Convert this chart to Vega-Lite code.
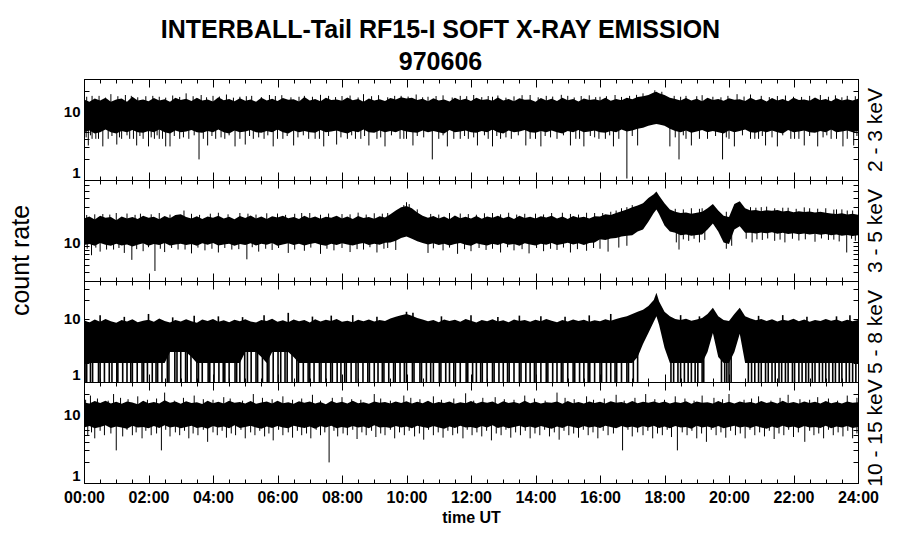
{
"$schema": "https://vega.github.io/schema/vega-lite/v6.json",
"background": "white",
"padding": {"left": 7, "top": 18, "right": 5, "bottom": 5},
"spacing": 0,
"bounds": "flush",
"title": {"text": ["INTERBALL-Tail RF15-I SOFT X-RAY EMISSION", "970606"], "font": "Liberation Sans", "fontSize": 25, "fontWeight": "bold", "color": "black", "lineHeight": 32, "anchor": "middle", "dx": -6, "offset": 3},
"config": {
 "view": {"stroke": "black", "strokeWidth": 1},
 "axis": {"grid": false, "domain": false, "labels": false, "tickColor": "black", "tickWidth": 1, "labelColor": "black", "labelFont": "Liberation Sans", "labelFontWeight": "bold", "labelFontSize": 15, "titleFont": "Liberation Sans", "titleColor": "black", "titleFontWeight": "normal"}
},
"datasets": {
"band": [
{"m":0,"a":5,"A":15,"b":9.2,"B":21,"c":2,"C":9.5,"d":6.5,"D":15},
{"m":10,"a":5.3,"A":14,"b":9.5,"B":22.5,"c":2,"C":8.8,"d":6.8,"D":14.5},
{"m":20,"a":4.8,"A":15.5,"b":9,"B":20.5,"c":2,"C":9.8,"d":6.3,"D":15.8},
{"m":30,"a":5,"A":14.5,"b":9.8,"B":23,"c":2,"C":9,"d":6.6,"D":14.8},
{"m":40,"a":5.5,"A":16,"b":9.3,"B":21.5,"c":2,"C":10,"d":7,"D":16},
{"m":50,"a":5,"A":14,"b":9,"B":22,"c":2,"C":9.2,"d":6.4,"D":14.6},
{"m":60,"a":4.8,"A":15,"b":9.6,"B":20,"c":2,"C":8.7,"d":6.7,"D":15.4},
{"m":70,"a":5.2,"A":15.5,"b":9.1,"B":22.5,"c":2,"C":9.6,"d":6.5,"D":14.4},
{"m":80,"a":5,"A":14,"b":9.4,"B":21,"c":2,"C":9.1,"d":6.2,"D":15.6},
{"m":90,"a":5.4,"A":16.5,"b":8.8,"B":22,"c":2,"C":9.9,"d":6.9,"D":15},
{"m":100,"a":5,"A":14.5,"b":9.3,"B":20.8,"c":2,"C":8.9,"d":6.5,"D":14.2},
{"m":110,"a":4.9,"A":15,"b":9.7,"B":23,"c":2,"C":9.4,"d":6.6,"D":15.9},
{"m":120,"a":5.2,"A":14.2,"b":9,"B":21.5,"c":2,"C":9.7,"d":6.3,"D":14.7},
{"m":130,"a":5,"A":15.8,"b":9.5,"B":22.2,"c":2,"C":9,"d":6.8,"D":15.3},
{"m":140,"a":5.5,"A":14.6,"b":9.2,"B":20.6,"c":2,"C":10.2,"d":6.4,"D":14.5},
{"m":150,"a":5,"A":15.2,"b":9.8,"B":22.8,"c":2,"C":9.3,"d":7,"D":16.2},
{"m":160,"a":4.8,"A":14,"b":9.1,"B":21.2,"c":3,"C":8.8,"d":6.5,"D":14.9},
{"m":170,"a":5.3,"A":16,"b":9.4,"B":23.5,"c":3,"C":9.6,"d":6.7,"D":15.5},
{"m":180,"a":5,"A":14.8,"b":9.6,"B":24,"c":3,"C":9.1,"d":6.3,"D":14.4},
{"m":190,"a":5.1,"A":15.4,"b":9.2,"B":22,"c":3,"C":9.9,"d":6.6,"D":15.7},
{"m":200,"a":5.4,"A":14.3,"b":9.5,"B":21,"c":2.5,"C":9.2,"d":6.9,"D":14.8},
{"m":210,"a":5,"A":15.9,"b":9,"B":22.6,"c":2,"C":8.7,"d":6.4,"D":15.2},
{"m":220,"a":4.9,"A":14.5,"b":9.7,"B":20.8,"c":2,"C":9.8,"d":6.6,"D":14.3},
{"m":230,"a":5.2,"A":15,"b":9.3,"B":22.4,"c":2,"C":9.3,"d":6.2,"D":15.9},
{"m":240,"a":5,"A":14.1,"b":9.8,"B":21.6,"c":2,"C":10,"d":6.8,"D":14.7},
{"m":250,"a":5.5,"A":16.2,"b":9.1,"B":23,"c":2,"C":9,"d":6.5,"D":15.4},
{"m":260,"a":5,"A":14.7,"b":9.4,"B":21,"c":2,"C":9.5,"d":6.7,"D":14.5},
{"m":270,"a":4.8,"A":15.3,"b":9.6,"B":22.2,"c":2,"C":8.9,"d":6.3,"D":16},
{"m":280,"a":5.3,"A":14.2,"b":9,"B":20.6,"c":2,"C":9.7,"d":7,"D":14.9},
{"m":290,"a":5,"A":15.7,"b":9.5,"B":22.8,"c":2,"C":9.2,"d":6.4,"D":15.3},
{"m":300,"a":5.1,"A":14.4,"b":9.2,"B":21.4,"c":3,"C":9.9,"d":6.6,"D":14.6},
{"m":310,"a":5.4,"A":15.1,"b":9.7,"B":23.2,"c":3,"C":9.1,"d":6.9,"D":15.8},
{"m":320,"a":5,"A":14,"b":9.1,"B":21,"c":3,"C":8.8,"d":6.5,"D":14.4},
{"m":330,"a":4.9,"A":16,"b":9.6,"B":22.4,"c":2.5,"C":9.6,"d":6.2,"D":15.1},
{"m":340,"a":5.2,"A":14.6,"b":9.3,"B":20.8,"c":2,"C":9.3,"d":6.7,"D":15.6},
{"m":350,"a":5,"A":15.4,"b":9.8,"B":22.6,"c":3,"C":10.1,"d":6.4,"D":14.5},
{"m":360,"a":5.5,"A":14.3,"b":9,"B":21.8,"c":3,"C":9,"d":6.8,"D":15.9},
{"m":370,"a":5,"A":15.8,"b":9.4,"B":23,"c":3,"C":9.5,"d":6.5,"D":14.7},
{"m":380,"a":4.8,"A":14.9,"b":9.7,"B":21.2,"c":3,"C":8.9,"d":6.3,"D":15.2},
{"m":390,"a":5.3,"A":15.2,"b":9.2,"B":22,"c":2.5,"C":9.8,"d":6.9,"D":14.4},
{"m":400,"a":5,"A":14.1,"b":9.6,"B":20.7,"c":2,"C":9.2,"d":6.6,"D":15.7},
{"m":410,"a":5.2,"A":16.3,"b":9.1,"B":22.9,"c":2,"C":9.6,"d":6.4,"D":14.9},
{"m":420,"a":5,"A":14.6,"b":9.5,"B":21.3,"c":2,"C":8.8,"d":6.7,"D":15.5},
{"m":430,"a":4.9,"A":15.3,"b":9.8,"B":22.5,"c":2,"C":9.9,"d":6.2,"D":14.6},
{"m":440,"a":5.4,"A":14.2,"b":9.3,"B":20.9,"c":2,"C":9.1,"d":6.8,"D":15.3},
{"m":450,"a":5,"A":15.9,"b":9,"B":22.2,"c":2,"C":9.7,"d":6.5,"D":14.2},
{"m":460,"a":5.1,"A":14.8,"b":9.6,"B":21.5,"c":2,"C":9.3,"d":6.9,"D":15.8},
{"m":470,"a":5.3,"A":15.1,"b":9.2,"B":23,"c":2,"C":10,"d":6.3,"D":14.8},
{"m":480,"a":5,"A":14.4,"b":9.7,"B":21,"c":2,"C":9,"d":6.6,"D":15.4},
{"m":490,"a":4.8,"A":16.1,"b":9.4,"B":22.4,"c":2,"C":9.4,"d":6.4,"D":14.5},
{"m":500,"a":5.2,"A":14.7,"b":9.1,"B":20.8,"c":2,"C":8.9,"d":6.8,"D":15.9},
{"m":510,"a":5,"A":15.3,"b":9.5,"B":22.8,"c":2,"C":9.7,"d":6.5,"D":14.7},
{"m":520,"a":5.5,"A":14,"b":9.8,"B":21.4,"c":2,"C":9.2,"d":6.7,"D":15.2},
{"m":530,"a":5,"A":15.6,"b":9.2,"B":22,"c":2,"C":9.8,"d":6.3,"D":14.4},
{"m":540,"a":4.9,"A":14.5,"b":9.6,"B":20.9,"c":2,"C":9.1,"d":7,"D":15.6},
{"m":550,"a":5.3,"A":15.2,"b":9.3,"B":22.6,"c":2,"C":9.6,"d":6.5,"D":14.9},
{"m":560,"a":5,"A":14.3,"b":9.9,"B":21.8,"c":2,"C":9.3,"d":6.6,"D":15.3},
{"m":570,"a":5.2,"A":15.8,"b":10,"B":24,"c":2,"C":10.2,"d":6.4,"D":14.6},
{"m":580,"a":5,"A":15,"b":10.5,"B":27,"c":2,"C":10.8,"d":6.8,"D":15.5},
{"m":590,"a":5.4,"A":16.2,"b":11.5,"B":30,"c":2,"C":11.5,"d":6.5,"D":14.8},
{"m":600,"a":5.1,"A":15.5,"b":12,"B":31,"c":2,"C":12,"d":6.7,"D":15.7},
{"m":610,"a":5,"A":16,"b":11.2,"B":29,"c":2,"C":11.2,"d":6.3,"D":14.5},
{"m":620,"a":4.9,"A":14.8,"b":10.4,"B":25.5,"c":2,"C":10.4,"d":6.9,"D":15.4},
{"m":630,"a":5.3,"A":15.4,"b":9.8,"B":23,"c":2,"C":9.8,"d":6.6,"D":14.7},
{"m":640,"a":5,"A":14.2,"b":9.4,"B":21.5,"c":2,"C":9.2,"d":6.4,"D":15.9},
{"m":650,"a":5.2,"A":15.7,"b":9.7,"B":22.7,"c":2,"C":9.6,"d":6.8,"D":14.6},
{"m":660,"a":5,"A":14.6,"b":9.2,"B":21,"c":2,"C":8.9,"d":6.5,"D":15.3},
{"m":670,"a":4.8,"A":15.1,"b":9.6,"B":22.4,"c":2,"C":9.8,"d":6.2,"D":14.8},
{"m":680,"a":5.4,"A":14.1,"b":9.1,"B":20.6,"c":2,"C":9.3,"d":6.7,"D":15.6},
{"m":690,"a":5,"A":16,"b":9.5,"B":23.1,"c":2,"C":9.7,"d":6.4,"D":14.4},
{"m":700,"a":5.1,"A":14.7,"b":9.8,"B":21.3,"c":2,"C":9,"d":6.9,"D":15.2},
{"m":710,"a":5.3,"A":15.4,"b":9.3,"B":22.2,"c":2,"C":10,"d":6.5,"D":14.7},
{"m":720,"a":5,"A":14.3,"b":9,"B":21,"c":2,"C":9.4,"d":6.6,"D":15.8},
{"m":730,"a":4.9,"A":15.9,"b":9.7,"B":22.8,"c":2,"C":8.8,"d":6.3,"D":14.6},
{"m":740,"a":5.2,"A":14.8,"b":9.4,"B":20.9,"c":2,"C":9.6,"d":6.8,"D":15.4},
{"m":750,"a":5,"A":15.2,"b":9.1,"B":22.5,"c":2,"C":9.2,"d":6.5,"D":14.9},
{"m":760,"a":5.5,"A":14.4,"b":9.6,"B":21.6,"c":2,"C":9.9,"d":7,"D":15.5},
{"m":770,"a":5,"A":16.1,"b":9.2,"B":23,"c":2,"C":9.1,"d":6.4,"D":14.3},
{"m":780,"a":4.8,"A":14.6,"b":9.8,"B":21.2,"c":2,"C":9.5,"d":6.7,"D":15.7},
{"m":790,"a":5.3,"A":15.3,"b":9.3,"B":22.4,"c":2,"C":8.9,"d":6.3,"D":14.8},
{"m":800,"a":5,"A":14.2,"b":9.5,"B":20.7,"c":2,"C":9.8,"d":6.6,"D":15.3},
{"m":810,"a":5.1,"A":15.7,"b":9,"B":22.9,"c":2,"C":9.3,"d":6.9,"D":14.5},
{"m":820,"a":5.4,"A":14.9,"b":9.7,"B":21.4,"c":2,"C":9.6,"d":6.5,"D":15.9},
{"m":830,"a":5,"A":15.1,"b":9.4,"B":22.2,"c":2,"C":9,"d":6.7,"D":14.7},
{"m":840,"a":4.9,"A":14,"b":9.1,"B":21,"c":2,"C":9.7,"d":6.4,"D":15.4},
{"m":850,"a":5.2,"A":15.8,"b":9.6,"B":22.6,"c":2,"C":9.2,"d":6.8,"D":14.6},
{"m":860,"a":5,"A":14.5,"b":9.3,"B":21.7,"c":2,"C":10,"d":6.5,"D":15.2},
{"m":870,"a":5.3,"A":15.4,"b":9.8,"B":23,"c":2,"C":9.4,"d":6.2,"D":14.9},
{"m":880,"a":5,"A":14.3,"b":9.2,"B":21.1,"c":2,"C":8.9,"d":6.7,"D":15.6},
{"m":890,"a":4.8,"A":16,"b":9.5,"B":22.4,"c":2,"C":9.6,"d":6.4,"D":14.4},
{"m":900,"a":5.2,"A":14.7,"b":9.9,"B":20.8,"c":2,"C":9.1,"d":6.9,"D":15.8},
{"m":910,"a":5,"A":15.3,"b":9.4,"B":22.8,"c":2,"C":9.8,"d":6.6,"D":14.7},
{"m":920,"a":5.4,"A":14.1,"b":9.7,"B":21.5,"c":2,"C":9.3,"d":6.3,"D":15.3},
{"m":930,"a":5,"A":15.6,"b":9.2,"B":22.3,"c":2,"C":9.7,"d":6.8,"D":14.5},
{"m":940,"a":5.1,"A":14.8,"b":9.8,"B":21,"c":2,"C":9,"d":6.5,"D":15.6},
{"m":950,"a":5.3,"A":15.2,"b":10,"B":22.6,"c":2,"C":9.5,"d":6.7,"D":14.8},
{"m":960,"a":5,"A":14.5,"b":11,"B":22.5,"c":2,"C":9.2,"d":6.4,"D":15.4},
{"m":970,"a":4.9,"A":15.9,"b":10.8,"B":24,"c":2,"C":9.9,"d":6.9,"D":14.6},
{"m":980,"a":5.2,"A":14.4,"b":11.3,"B":23.5,"c":2,"C":9.4,"d":6.6,"D":15.7},
{"m":990,"a":5,"A":15.3,"b":11.5,"B":25,"c":2,"C":10,"d":6.3,"D":14.9},
{"m":1000,"a":5.5,"A":14.7,"b":12,"B":26.5,"c":2,"C":10.5,"d":6.8,"D":15.3},
{"m":1010,"a":5.1,"A":16,"b":12.3,"B":28,"c":2,"C":11,"d":6.5,"D":14.5},
{"m":1020,"a":5.3,"A":15.2,"b":12.5,"B":30,"c":2,"C":12,"d":6.7,"D":15.8},
{"m":1030,"a":5.6,"A":16.3,"b":14,"B":31.5,"c":2.5,"C":13,"d":6.4,"D":14.7},
{"m":1040,"a":5.8,"A":16.8,"b":15,"B":34,"c":4,"C":14,"d":6.8,"D":15.4},
{"m":1050,"a":6.2,"A":17.5,"b":19,"B":40,"c":6,"C":16,"d":6.5,"D":14.9},
{"m":1060,"a":6.5,"A":19,"b":25,"B":45,"c":9,"C":20,"d":6.9,"D":15.6},
{"m":1065,"a":6.6,"A":19.5,"b":28,"B":49,"c":11,"C":26,"d":6.6,"D":15.2},
{"m":1070,"a":6.5,"A":18.5,"b":24,"B":43,"c":8,"C":19,"d":6.4,"D":14.8},
{"m":1080,"a":6.2,"A":17.5,"b":17,"B":34,"c":3.5,"C":13,"d":6.7,"D":15.5},
{"m":1090,"a":5.6,"A":16,"b":14,"B":28,"c":2,"C":11,"d":6.3,"D":14.6},
{"m":1100,"a":5.2,"A":15.3,"b":13.5,"B":26,"c":2,"C":10,"d":6.8,"D":15.3},
{"m":1110,"a":5,"A":14.6,"b":12.5,"B":25,"c":2,"C":9.6,"d":6.5,"D":14.8},
{"m":1120,"a":5.3,"A":15.8,"b":12.8,"B":25.5,"c":2,"C":10.1,"d":6.6,"D":15.7},
{"m":1130,"a":4.9,"A":14.5,"b":12.3,"B":24.5,"c":2,"C":9.4,"d":6.2,"D":14.4},
{"m":1140,"a":5.1,"A":15.4,"b":12.6,"B":25.2,"c":2,"C":9.8,"d":6.9,"D":15.5},
{"m":1150,"a":5.4,"A":14.2,"b":12.8,"B":26,"c":2,"C":10.4,"d":6.5,"D":14.9},
{"m":1160,"a":5,"A":15.9,"b":15,"B":29,"c":3,"C":12,"d":6.7,"D":15.2},
{"m":1170,"a":5.2,"A":14.8,"b":18,"B":33,"c":6,"C":15,"d":6.4,"D":14.6},
{"m":1180,"a":5,"A":15.3,"b":14,"B":27,"c":2.5,"C":11,"d":6.8,"D":15.8},
{"m":1190,"a":4.8,"A":14.4,"b":10,"B":23,"c":2,"C":9.6,"d":6.3,"D":14.7},
{"m":1200,"a":5.3,"A":15.7,"b":9.5,"B":22,"c":2,"C":9.3,"d":6.6,"D":15.4},
{"m":1210,"a":5,"A":14.9,"b":15,"B":33,"c":3,"C":12,"d":6.9,"D":14.5},
{"m":1220,"a":5.2,"A":15.2,"b":16.5,"B":36,"c":5.8,"C":15,"d":6.5,"D":15.6},
{"m":1230,"a":5.5,"A":14.3,"b":13.5,"B":29,"c":2,"C":11,"d":6.7,"D":14.9},
{"m":1240,"a":5,"A":16,"b":13.5,"B":27,"c":2,"C":10.2,"d":6.4,"D":15.3},
{"m":1250,"a":4.9,"A":14.7,"b":13.2,"B":27.5,"c":2,"C":9.5,"d":6.8,"D":14.6},
{"m":1260,"a":5.2,"A":15.4,"b":13.6,"B":26.5,"c":2,"C":10,"d":6.5,"D":15.8},
{"m":1270,"a":5,"A":14.1,"b":13.3,"B":27.2,"c":2,"C":9.3,"d":6.2,"D":14.8},
{"m":1280,"a":5.3,"A":15.8,"b":13.7,"B":26.8,"c":2,"C":9.9,"d":6.7,"D":15.4},
{"m":1290,"a":5,"A":14.6,"b":13.1,"B":27.4,"c":2,"C":9.1,"d":6.4,"D":14.5},
{"m":1300,"a":4.8,"A":15.3,"b":13.5,"B":26.2,"c":2,"C":9.7,"d":6.9,"D":15.9},
{"m":1310,"a":5.4,"A":14.2,"b":13,"B":26.8,"c":2,"C":9.4,"d":6.5,"D":14.7},
{"m":1320,"a":5,"A":15.9,"b":13.3,"B":25.6,"c":2,"C":10.1,"d":6.7,"D":15.3},
{"m":1330,"a":5.1,"A":14.8,"b":12.9,"B":26.4,"c":2,"C":9.2,"d":6.3,"D":14.6},
{"m":1340,"a":5.3,"A":15.1,"b":13.2,"B":25.8,"c":2,"C":9.8,"d":6.8,"D":15.6},
{"m":1350,"a":5,"A":14.4,"b":12.8,"B":26.2,"c":2,"C":9,"d":6.5,"D":14.8},
{"m":1360,"a":4.9,"A":16.1,"b":13.1,"B":25.4,"c":2,"C":9.6,"d":6.6,"D":15.4},
{"m":1370,"a":5.2,"A":14.7,"b":12.7,"B":26,"c":2,"C":9.3,"d":6.4,"D":14.5},
{"m":1380,"a":5,"A":15.3,"b":13,"B":25.2,"c":2,"C":10,"d":6.9,"D":15.8},
{"m":1390,"a":5.5,"A":14.2,"b":12.5,"B":24.6,"c":2,"C":9.4,"d":6.3,"D":14.7},
{"m":1400,"a":5,"A":15.7,"b":12.8,"B":24.2,"c":2,"C":9.8,"d":6.7,"D":15.3},
{"m":1410,"a":5.1,"A":14.6,"b":12.3,"B":24.8,"c":2,"C":9.1,"d":6.5,"D":14.6},
{"m":1420,"a":5.3,"A":15.2,"b":12.6,"B":23.8,"c":2,"C":9.7,"d":6.8,"D":15.5},
{"m":1430,"a":5,"A":14.5,"b":12.2,"B":24.4,"c":2,"C":9.2,"d":6.4,"D":14.9},
{"m":1440,"a":5.2,"A":15.4,"b":12.5,"B":23.6,"c":2,"C":9.6,"d":6.6,"D":15.2}
],
"spk": [
{"p":1,"m":8,"v":3.2},{"p":1,"m":15,"v":4},{"p":1,"m":22,"v":4},{"p":1,"m":35,"v":3.1},{"p":1,"m":45,"v":4},{"p":1,"m":61,"v":3.3},{"p":1,"m":70,"v":4},{"p":1,"m":85,"v":4},{"p":1,"m":98,"v":3.2},{"p":1,"m":110,"v":4},{"p":1,"m":120,"v":3.1},{"p":1,"m":131,"v":4},{"p":1,"m":140,"v":4},{"p":1,"m":152,"v":3.1},{"p":1,"m":160,"v":3.1},{"p":1,"m":178,"v":4},{"p":1,"m":195,"v":4},{"p":1,"m":214,"v":2},{"p":1,"m":230,"v":3.2},{"p":1,"m":245,"v":4},{"p":1,"m":262,"v":4},{"p":1,"m":281,"v":3.1},{"p":1,"m":300,"v":3.3},{"p":1,"m":315,"v":4},{"p":1,"m":335,"v":4},{"p":1,"m":352,"v":3.1},{"p":1,"m":370,"v":4},{"p":1,"m":390,"v":3.2},{"p":1,"m":418,"v":4},{"p":1,"m":430,"v":4},{"p":1,"m":446,"v":3.1},{"p":1,"m":470,"v":3.3},{"p":1,"m":490,"v":4},{"p":1,"m":505,"v":4},{"p":1,"m":530,"v":3.2},{"p":1,"m":545,"v":4},{"p":1,"m":560,"v":3.1},{"p":1,"m":588,"v":4},{"p":1,"m":600,"v":4},{"p":1,"m":612,"v":3.2},{"p":1,"m":648,"v":2},{"p":1,"m":660,"v":4},{"p":1,"m":676,"v":3.1},{"p":1,"m":700,"v":4},{"p":1,"m":715,"v":4},{"p":1,"m":732,"v":3.2},{"p":1,"m":760,"v":3.1},{"p":1,"m":775,"v":4},{"p":1,"m":795,"v":4},{"p":1,"m":822,"v":3.2},{"p":1,"m":840,"v":4},{"p":1,"m":850,"v":3.1},{"p":1,"m":880,"v":4},{"p":1,"m":905,"v":3.2},{"p":1,"m":915,"v":4},{"p":1,"m":930,"v":3.1},{"p":1,"m":958,"v":4},{"p":1,"m":970,"v":4},{"p":1,"m":985,"v":3.1},{"p":1,"m":1010,"v":1.05},{"p":1,"m":1030,"v":3.2},{"p":1,"m":1090,"v":3.1},{"p":1,"m":1107,"v":2},{"p":1,"m":1120,"v":4},{"p":1,"m":1130,"v":3.2},{"p":1,"m":1160,"v":4},{"p":1,"m":1188,"v":2},{"p":1,"m":1200,"v":4},{"p":1,"m":1210,"v":3.1},{"p":1,"m":1240,"v":4},{"p":1,"m":1255,"v":4},{"p":1,"m":1268,"v":3.2},{"p":1,"m":1290,"v":3.1},{"p":1,"m":1315,"v":4},{"p":1,"m":1330,"v":4},{"p":1,"m":1340,"v":3.2},{"p":1,"m":1365,"v":3.1},{"p":1,"m":1390,"v":4},{"p":1,"m":1400,"v":4},{"p":1,"m":1412,"v":3.1},{"p":1,"m":1432,"v":3.2},
{"p":1,"m":4,"v":4.2},{"p":1,"m":12,"v":4.5},{"p":1,"m":27,"v":4},{"p":1,"m":52,"v":4.4},{"p":1,"m":66,"v":4.2},{"p":1,"m":80,"v":4.5},{"p":1,"m":92,"v":4},{"p":1,"m":104,"v":4.4},{"p":1,"m":125,"v":4.2},{"p":1,"m":136,"v":4.5},{"p":1,"m":146,"v":4},{"p":1,"m":168,"v":4.4},{"p":1,"m":185,"v":4.2},{"p":1,"m":205,"v":4.5},{"p":1,"m":222,"v":4},{"p":1,"m":238,"v":4.4},{"p":1,"m":255,"v":4.2},{"p":1,"m":270,"v":4.5},{"p":1,"m":290,"v":4},{"p":1,"m":308,"v":4.4},{"p":1,"m":325,"v":4.2},{"p":1,"m":342,"v":4.5},{"p":1,"m":360,"v":4},{"p":1,"m":378,"v":4.4},{"p":1,"m":398,"v":4.2},{"p":1,"m":408,"v":4.5},{"p":1,"m":438,"v":4},{"p":1,"m":455,"v":4.4},{"p":1,"m":478,"v":4.2},{"p":1,"m":498,"v":4.5},{"p":1,"m":515,"v":4},{"p":1,"m":522,"v":4.4},{"p":1,"m":552,"v":4.2},{"p":1,"m":572,"v":4.5},{"p":1,"m":595,"v":4},{"p":1,"m":620,"v":4.4},{"p":1,"m":632,"v":4.2},{"p":1,"m":668,"v":4.5},{"p":1,"m":688,"v":4},{"p":1,"m":708,"v":4.4},{"p":1,"m":725,"v":4.2},{"p":1,"m":745,"v":4.5},{"p":1,"m":752,"v":4},{"p":1,"m":768,"v":4.4},{"p":1,"m":785,"v":4.2},{"p":1,"m":808,"v":4.5},{"p":1,"m":830,"v":4},{"p":1,"m":858,"v":4.4},{"p":1,"m":868,"v":4.2},{"p":1,"m":892,"v":4.5},{"p":1,"m":922,"v":4},{"p":1,"m":942,"v":4.4},{"p":1,"m":950,"v":4.2},{"p":1,"m":978,"v":4.5},{"p":1,"m":995,"v":4},{"p":1,"m":1020,"v":4.4},{"p":1,"m":1100,"v":4.2},{"p":1,"m":1115,"v":4.5},{"p":1,"m":1145,"v":4},{"p":1,"m":1175,"v":4.4},{"p":1,"m":1195,"v":4.2},{"p":1,"m":1225,"v":4.5},{"p":1,"m":1248,"v":4},{"p":1,"m":1262,"v":4.4},{"p":1,"m":1280,"v":4.2},{"p":1,"m":1300,"v":4.5},{"p":1,"m":1322,"v":4},{"p":1,"m":1350,"v":4.4},{"p":1,"m":1375,"v":4.2},{"p":1,"m":1382,"v":4.5},{"p":1,"m":1420,"v":4},{"p":1,"m":1438,"v":4.4},
{"p":1,"m":15,"v":17},{"p":1,"m":50,"v":18},{"p":1,"m":88,"v":17},{"p":1,"m":140,"v":16.5},{"p":1,"m":190,"v":18.5},{"p":1,"m":240,"v":17},{"p":1,"m":290,"v":16.5},{"p":1,"m":345,"v":17.5},{"p":1,"m":400,"v":16.5},{"p":1,"m":455,"v":17},{"p":1,"m":520,"v":18},{"p":1,"m":590,"v":17},{"p":1,"m":640,"v":16.5},{"p":1,"m":700,"v":17},{"p":1,"m":760,"v":16.5},{"p":1,"m":830,"v":17.5},{"p":1,"m":900,"v":17},{"p":1,"m":960,"v":16.5},{"p":1,"m":1040,"v":18.5},{"p":1,"m":1062,"v":20.5},{"p":1,"m":1075,"v":19.5},{"p":1,"m":1120,"v":17},{"p":1,"m":1170,"v":16.5},{"p":1,"m":1215,"v":18},{"p":1,"m":1260,"v":17},{"p":1,"m":1320,"v":16.5},{"p":1,"m":1370,"v":17.5},{"p":1,"m":1420,"v":17},
{"p":1,"m":5,"v":16.5},{"p":1,"m":28,"v":17},{"p":1,"m":40,"v":16},{"p":1,"m":63,"v":16.8},{"p":1,"m":77,"v":17.5},{"p":1,"m":100,"v":16.2},{"p":1,"m":115,"v":16.8},{"p":1,"m":128,"v":17},{"p":1,"m":152,"v":16},{"p":1,"m":165,"v":17.2},{"p":1,"m":178,"v":16.4},{"p":1,"m":203,"v":16.8},{"p":1,"m":218,"v":17.5},{"p":1,"m":228,"v":16.2},{"p":1,"m":252,"v":16.6},{"p":1,"m":265,"v":17.8},{"p":1,"m":278,"v":16},{"p":1,"m":302,"v":16.8},{"p":1,"m":312,"v":17},{"p":1,"m":330,"v":16.3},{"p":1,"m":356,"v":16.9},{"p":1,"m":368,"v":17.4},{"p":1,"m":385,"v":16.2},{"p":1,"m":410,"v":17},{"p":1,"m":425,"v":16.5},{"p":1,"m":440,"v":17.6},{"p":1,"m":468,"v":16.3},{"p":1,"m":480,"v":16.9},{"p":1,"m":495,"v":17.2},{"p":1,"m":510,"v":16.1},{"p":1,"m":535,"v":16.8},{"p":1,"m":548,"v":17.4},{"p":1,"m":565,"v":16.2},{"p":1,"m":578,"v":17},{"p":1,"m":603,"v":16.6},{"p":1,"m":618,"v":17.8},{"p":1,"m":630,"v":16.2},{"p":1,"m":655,"v":16.9},{"p":1,"m":668,"v":17.3},{"p":1,"m":685,"v":16.1},{"p":1,"m":712,"v":16.8},{"p":1,"m":725,"v":17.5},{"p":1,"m":740,"v":16.3},{"p":1,"m":752,"v":16.9},{"p":1,"m":770,"v":17.2},{"p":1,"m":785,"v":16},{"p":1,"m":800,"v":16.7},{"p":1,"m":815,"v":17.4},{"p":1,"m":845,"v":16.2},{"p":1,"m":860,"v":17},{"p":1,"m":872,"v":16.6},{"p":1,"m":888,"v":17.6},{"p":1,"m":912,"v":16.1},{"p":1,"m":925,"v":16.9},{"p":1,"m":940,"v":17.3},{"p":1,"m":952,"v":16.3},{"p":1,"m":972,"v":16.8},{"p":1,"m":988,"v":17.5},{"p":1,"m":1000,"v":16.4},{"p":1,"m":1015,"v":17},{"p":1,"m":1028,"v":17.6},{"p":1,"m":1098,"v":17},{"p":1,"m":1110,"v":16.5},{"p":1,"m":1140,"v":16.8},{"p":1,"m":1150,"v":17.4},{"p":1,"m":1185,"v":16.2},{"p":1,"m":1198,"v":17},{"p":1,"m":1228,"v":16.6},{"p":1,"m":1240,"v":17.8},{"p":1,"m":1275,"v":16.3},{"p":1,"m":1290,"v":16.9},{"p":1,"m":1305,"v":17.2},{"p":1,"m":1335,"v":16.4},{"p":1,"m":1350,"v":17},{"p":1,"m":1385,"v":16.5},{"p":1,"m":1398,"v":17.3},{"p":1,"m":1410,"v":16.2},{"p":1,"m":1435,"v":16.8},
{"p":2,"m":14,"v":6.7},{"p":2,"m":30,"v":7.5},{"p":2,"m":55,"v":8},{"p":2,"m":75,"v":7.2},{"p":2,"m":89,"v":5.8},{"p":2,"m":110,"v":7.6},{"p":2,"m":132,"v":4.1},{"p":2,"m":150,"v":7.4},{"p":2,"m":175,"v":8},{"p":2,"m":200,"v":7.1},{"p":2,"m":225,"v":7.8},{"p":2,"m":250,"v":7.3},{"p":2,"m":275,"v":8},{"p":2,"m":303,"v":5.9},{"p":2,"m":325,"v":7.5},{"p":2,"m":350,"v":7.9},{"p":2,"m":380,"v":7.2},{"p":2,"m":410,"v":7.7},{"p":2,"m":440,"v":7},{"p":2,"m":465,"v":7.8},{"p":2,"m":495,"v":7.4},{"p":2,"m":520,"v":8},{"p":2,"m":545,"v":7.3},{"p":2,"m":580,"v":7.9},{"p":2,"m":640,"v":7.2},{"p":2,"m":668,"v":7.8},{"p":2,"m":695,"v":7},{"p":2,"m":720,"v":7.6},{"p":2,"m":748,"v":7.9},{"p":2,"m":775,"v":7.3},{"p":2,"m":800,"v":7.8},{"p":2,"m":828,"v":7.1},{"p":2,"m":855,"v":7.6},{"p":2,"m":880,"v":7.9},{"p":2,"m":905,"v":7.3},{"p":2,"m":935,"v":7.7},{"p":2,"m":960,"v":8.2},{"p":2,"m":975,"v":7.5},{"p":2,"m":995,"v":8.5},{"p":2,"m":1010,"v":9},{"p":2,"m":1102,"v":10},{"p":2,"m":1107,"v":8},{"p":2,"m":1125,"v":10.5},{"p":2,"m":1145,"v":10},{"p":2,"m":1195,"v":8.2},{"p":2,"m":1205,"v":9},{"p":2,"m":1243,"v":10},{"p":2,"m":1262,"v":10.8},{"p":2,"m":1285,"v":10.5},{"p":2,"m":1304,"v":10},{"p":2,"m":1330,"v":10.6},{"p":2,"m":1360,"v":10.2},{"p":2,"m":1385,"v":10.8},{"p":2,"m":1405,"v":10.3},{"p":2,"m":1419,"v":7.3},{"p":2,"m":1435,"v":10.5},
{"p":2,"m":6,"v":8.2},{"p":2,"m":22,"v":8.5},{"p":2,"m":42,"v":8},{"p":2,"m":65,"v":8.4},{"p":2,"m":98,"v":8.1},{"p":2,"m":120,"v":8.6},{"p":2,"m":142,"v":8.2},{"p":2,"m":163,"v":8.4},{"p":2,"m":188,"v":8},{"p":2,"m":212,"v":8.5},{"p":2,"m":238,"v":8.2},{"p":2,"m":262,"v":8.4},{"p":2,"m":288,"v":8.1},{"p":2,"m":313,"v":8.6},{"p":2,"m":338,"v":8.2},{"p":2,"m":362,"v":8.4},{"p":2,"m":392,"v":8},{"p":2,"m":422,"v":8.5},{"p":2,"m":452,"v":8.2},{"p":2,"m":480,"v":8.4},{"p":2,"m":508,"v":8.1},{"p":2,"m":532,"v":8.6},{"p":2,"m":558,"v":8.2},{"p":2,"m":565,"v":8.4},{"p":2,"m":650,"v":8.3},{"p":2,"m":680,"v":8.5},{"p":2,"m":708,"v":8.1},{"p":2,"m":735,"v":8.4},{"p":2,"m":760,"v":8.2},{"p":2,"m":788,"v":8.6},{"p":2,"m":815,"v":8.1},{"p":2,"m":842,"v":8.4},{"p":2,"m":868,"v":8.2},{"p":2,"m":892,"v":8.5},{"p":2,"m":918,"v":8.1},{"p":2,"m":948,"v":8.4},{"p":2,"m":1115,"v":11},{"p":2,"m":1135,"v":11.2},{"p":2,"m":1155,"v":10.8},{"p":2,"m":1232,"v":11.2},{"p":2,"m":1252,"v":11},{"p":2,"m":1272,"v":11.3},{"p":2,"m":1295,"v":10.9},{"p":2,"m":1318,"v":11.2},{"p":2,"m":1342,"v":11},{"p":2,"m":1372,"v":11.3},{"p":2,"m":1395,"v":10.9},{"p":2,"m":1428,"v":11.2},
{"p":2,"m":20,"v":24},{"p":2,"m":60,"v":25},{"p":2,"m":105,"v":24.5},{"p":2,"m":186,"v":27},{"p":2,"m":235,"v":24.5},{"p":2,"m":290,"v":25},{"p":2,"m":360,"v":24.6},{"p":2,"m":420,"v":25},{"p":2,"m":480,"v":24.2},{"p":2,"m":540,"v":24.8},{"p":2,"m":600,"v":35},{"p":2,"m":605,"v":33},{"p":2,"m":700,"v":24.6},{"p":2,"m":760,"v":25},{"p":2,"m":820,"v":24.4},{"p":2,"m":890,"v":25.2},{"p":2,"m":950,"v":25},{"p":2,"m":1000,"v":29},{"p":2,"m":1130,"v":29},{"p":2,"m":1260,"v":30},{"p":2,"m":1300,"v":29.5},{"p":2,"m":1350,"v":29},{"p":2,"m":1400,"v":28},{"p":2,"m":1430,"v":27},
{"p":2,"m":5,"v":23.5},{"p":2,"m":35,"v":24.2},{"p":2,"m":48,"v":23.8},{"p":2,"m":80,"v":24.6},{"p":2,"m":95,"v":23.6},{"p":2,"m":125,"v":24},{"p":2,"m":140,"v":25},{"p":2,"m":160,"v":23.8},{"p":2,"m":200,"v":24.4},{"p":2,"m":215,"v":23.6},{"p":2,"m":250,"v":25.2},{"p":2,"m":268,"v":24},{"p":2,"m":305,"v":24.5},{"p":2,"m":320,"v":23.8},{"p":2,"m":340,"v":24.8},{"p":2,"m":375,"v":23.6},{"p":2,"m":392,"v":24.4},{"p":2,"m":405,"v":25},{"p":2,"m":440,"v":23.7},{"p":2,"m":455,"v":24.6},{"p":2,"m":495,"v":24},{"p":2,"m":510,"v":25.3},{"p":2,"m":525,"v":23.8},{"p":2,"m":555,"v":24.5},{"p":2,"m":565,"v":25},{"p":2,"m":585,"v":28},{"p":2,"m":595,"v":32},{"p":2,"m":620,"v":28},{"p":2,"m":645,"v":24.3},{"p":2,"m":660,"v":23.8},{"p":2,"m":680,"v":25},{"p":2,"m":715,"v":24.2},{"p":2,"m":730,"v":23.7},{"p":2,"m":745,"v":24.8},{"p":2,"m":775,"v":24},{"p":2,"m":790,"v":25.2},{"p":2,"m":805,"v":23.8},{"p":2,"m":840,"v":24.5},{"p":2,"m":855,"v":23.9},{"p":2,"m":870,"v":25},{"p":2,"m":905,"v":24.3},{"p":2,"m":920,"v":23.8},{"p":2,"m":935,"v":25.2},{"p":2,"m":965,"v":25},{"p":2,"m":980,"v":26},{"p":2,"m":990,"v":27},{"p":2,"m":1010,"v":30},{"p":2,"m":1020,"v":32},{"p":2,"m":1100,"v":28.5},{"p":2,"m":1115,"v":28},{"p":2,"m":1145,"v":28.5},{"p":2,"m":1150,"v":29},{"p":2,"m":1195,"v":26},{"p":2,"m":1240,"v":30},{"p":2,"m":1250,"v":29.5},{"p":2,"m":1270,"v":30.5},{"p":2,"m":1285,"v":29},{"p":2,"m":1310,"v":29.5},{"p":2,"m":1325,"v":28.5},{"p":2,"m":1340,"v":29.8},{"p":2,"m":1365,"v":28.6},{"p":2,"m":1380,"v":29},{"p":2,"m":1395,"v":27.8},{"p":2,"m":1410,"v":28},{"p":2,"m":1420,"v":27},
{"p":3,"m":2,"v":1},{"p":3,"m":5,"v":1},{"p":3,"m":12,"v":1},{"p":3,"m":16,"v":1},{"p":3,"m":27,"v":1},{"p":3,"m":30,"v":1},{"p":3,"m":38,"v":1},{"p":3,"m":47,"v":1},{"p":3,"m":52,"v":1},{"p":3,"m":61,"v":1},{"p":3,"m":63,"v":1},{"p":3,"m":72,"v":1},{"p":3,"m":80,"v":1},{"p":3,"m":87,"v":1},{"p":3,"m":90,"v":1},{"p":3,"m":99,"v":1},{"p":3,"m":108,"v":1},{"p":3,"m":111,"v":1},{"p":3,"m":118,"v":1},{"p":3,"m":127,"v":1},{"p":3,"m":134,"v":1},{"p":3,"m":137,"v":1},{"p":3,"m":145,"v":1},{"p":3,"m":155,"v":1},{"p":3,"m":158,"v":1},{"p":3,"m":169,"v":1},{"p":3,"m":173,"v":1},{"p":3,"m":180,"v":1},{"p":3,"m":189,"v":1},{"p":3,"m":192,"v":1},{"p":3,"m":199,"v":1},{"p":3,"m":210,"v":1},{"p":3,"m":213,"v":1},{"p":3,"m":220,"v":1},{"p":3,"m":231,"v":1},{"p":3,"m":234,"v":1},{"p":3,"m":242,"v":1},{"p":3,"m":251,"v":1},{"p":3,"m":259,"v":1},{"p":3,"m":262,"v":1},{"p":3,"m":270,"v":1},{"p":3,"m":281,"v":1},{"p":3,"m":284,"v":1},{"p":3,"m":290,"v":1},{"p":3,"m":299,"v":1},{"p":3,"m":304,"v":1},{"p":3,"m":311,"v":1},{"p":3,"m":320,"v":1},{"p":3,"m":323,"v":1},{"p":3,"m":332,"v":1},{"p":3,"m":341,"v":1},{"p":3,"m":344,"v":1},{"p":3,"m":352,"v":1},{"p":3,"m":361,"v":1},{"p":3,"m":366,"v":1},{"p":3,"m":374,"v":1},{"p":3,"m":378,"v":1},{"p":3,"m":387,"v":1},{"p":3,"m":396,"v":1},{"p":3,"m":399,"v":1},{"p":3,"m":408,"v":1},{"p":3,"m":417,"v":1},{"p":3,"m":420,"v":1},{"p":3,"m":428,"v":1},{"p":3,"m":438,"v":1},{"p":3,"m":441,"v":1},{"p":3,"m":450,"v":1},{"p":3,"m":459,"v":1},{"p":3,"m":462,"v":1},{"p":3,"m":471,"v":1},{"p":3,"m":478,"v":1},{"p":3,"m":485,"v":1},{"p":3,"m":488,"v":1},{"p":3,"m":497,"v":1},{"p":3,"m":506,"v":1},{"p":3,"m":510,"v":1},{"p":3,"m":519,"v":1},{"p":3,"m":528,"v":1},{"p":3,"m":531,"v":1},{"p":3,"m":540,"v":1},{"p":3,"m":547,"v":1},{"p":3,"m":555,"v":1},{"p":3,"m":558,"v":1},{"p":3,"m":567,"v":1},{"p":3,"m":576,"v":1},{"p":3,"m":579,"v":1},{"p":3,"m":588,"v":1},{"p":3,"m":596,"v":1},{"p":3,"m":600,"v":1},{"p":3,"m":611,"v":1},{"p":3,"m":614,"v":1},{"p":3,"m":625,"v":1},{"p":3,"m":628,"v":1},{"p":3,"m":637,"v":1},{"p":3,"m":645,"v":1},{"p":3,"m":650,"v":1},{"p":3,"m":661,"v":1},{"p":3,"m":664,"v":1},{"p":3,"m":673,"v":1},{"p":3,"m":680,"v":1},{"p":3,"m":688,"v":1},{"p":3,"m":691,"v":1},{"p":3,"m":700,"v":1},{"p":3,"m":711,"v":1},{"p":3,"m":714,"v":1},{"p":3,"m":723,"v":1},{"p":3,"m":730,"v":1},{"p":3,"m":738,"v":1},{"p":3,"m":741,"v":1},{"p":3,"m":750,"v":1},{"p":3,"m":760,"v":1},{"p":3,"m":763,"v":1},{"p":3,"m":772,"v":1},{"p":3,"m":780,"v":1},{"p":3,"m":788,"v":1},{"p":3,"m":791,"v":1},{"p":3,"m":800,"v":1},{"p":3,"m":810,"v":1},{"p":3,"m":813,"v":1},{"p":3,"m":822,"v":1},{"p":3,"m":830,"v":1},{"p":3,"m":838,"v":1},{"p":3,"m":841,"v":1},{"p":3,"m":850,"v":1},{"p":3,"m":860,"v":1},{"p":3,"m":863,"v":1},{"p":3,"m":872,"v":1},{"p":3,"m":880,"v":1},{"p":3,"m":888,"v":1},{"p":3,"m":891,"v":1},{"p":3,"m":900,"v":1},{"p":3,"m":910,"v":1},{"p":3,"m":913,"v":1},{"p":3,"m":922,"v":1},{"p":3,"m":930,"v":1},{"p":3,"m":938,"v":1},{"p":3,"m":941,"v":1},{"p":3,"m":950,"v":1},{"p":3,"m":960,"v":1},{"p":3,"m":963,"v":1},{"p":3,"m":972,"v":1},{"p":3,"m":980,"v":1},{"p":3,"m":988,"v":1},{"p":3,"m":991,"v":1},{"p":3,"m":1000,"v":1},{"p":3,"m":1010,"v":1},{"p":3,"m":1013,"v":1},{"p":3,"m":1022,"v":1},{"p":3,"m":1030,"v":1},{"p":3,"m":1092,"v":1},{"p":3,"m":1097,"v":1},{"p":3,"m":1105,"v":1},{"p":3,"m":1110,"v":1},{"p":3,"m":1117,"v":1},{"p":3,"m":1124,"v":1},{"p":3,"m":1130,"v":1},{"p":3,"m":1137,"v":1},{"p":3,"m":1142,"v":1},{"p":3,"m":1150,"v":1},{"p":3,"m":1153,"v":1},{"p":3,"m":1186,"v":1},{"p":3,"m":1192,"v":1},{"p":3,"m":1196,"v":1},{"p":3,"m":1200,"v":1},{"p":3,"m":1204,"v":1},{"p":3,"m":1236,"v":1},{"p":3,"m":1242,"v":1},{"p":3,"m":1248,"v":1},{"p":3,"m":1255,"v":1},{"p":3,"m":1260,"v":1},{"p":3,"m":1268,"v":1},{"p":3,"m":1273,"v":1},{"p":3,"m":1280,"v":1},{"p":3,"m":1286,"v":1},{"p":3,"m":1293,"v":1},{"p":3,"m":1298,"v":1},{"p":3,"m":1305,"v":1},{"p":3,"m":1310,"v":1},{"p":3,"m":1318,"v":1},{"p":3,"m":1322,"v":1},{"p":3,"m":1330,"v":1},{"p":3,"m":1336,"v":1},{"p":3,"m":1343,"v":1},{"p":3,"m":1348,"v":1},{"p":3,"m":1355,"v":1},{"p":3,"m":1360,"v":1},{"p":3,"m":1368,"v":1},{"p":3,"m":1374,"v":1},{"p":3,"m":1380,"v":1},{"p":3,"m":1386,"v":1},{"p":3,"m":1393,"v":1},{"p":3,"m":1398,"v":1},{"p":3,"m":1405,"v":1},{"p":3,"m":1410,"v":1},{"p":3,"m":1418,"v":1},{"p":3,"m":1424,"v":1},{"p":3,"m":1430,"v":1},{"p":3,"m":1436,"v":1},
{"p":3,"m":30,"v":11.5},{"p":3,"m":75,"v":10.8},{"p":3,"m":120,"v":12},{"p":3,"m":165,"v":10.6},{"p":3,"m":205,"v":11.2},{"p":3,"m":250,"v":11},{"p":3,"m":295,"v":10.7},{"p":3,"m":335,"v":11.4},{"p":3,"m":380,"v":12.5},{"p":3,"m":425,"v":10.9},{"p":3,"m":460,"v":11.3},{"p":3,"m":500,"v":11.5},{"p":3,"m":545,"v":10.8},{"p":3,"m":600,"v":13},{"p":3,"m":612,"v":12.5},{"p":3,"m":665,"v":11},{"p":3,"m":720,"v":11.5},{"p":3,"m":770,"v":10.7},{"p":3,"m":810,"v":11.3},{"p":3,"m":850,"v":11},{"p":3,"m":895,"v":10.8},{"p":3,"m":940,"v":11.4},{"p":3,"m":980,"v":12},{"p":3,"m":1110,"v":11.5},{"p":3,"m":1145,"v":11},{"p":3,"m":1255,"v":11.2},{"p":3,"m":1300,"v":11.5},{"p":3,"m":1345,"v":10.8},{"p":3,"m":1400,"v":11},{"p":3,"m":1425,"v":11.4},
{"p":4,"m":7,"v":5},{"p":4,"m":20,"v":4.5},{"p":4,"m":38,"v":5},{"p":4,"m":60,"v":3},{"p":4,"m":72,"v":4.8},{"p":4,"m":90,"v":5},{"p":4,"m":108,"v":4.5},{"p":4,"m":125,"v":5},{"p":4,"m":144,"v":3},{"p":4,"m":160,"v":4.8},{"p":4,"m":178,"v":5},{"p":4,"m":195,"v":4.5},{"p":4,"m":212,"v":5},{"p":4,"m":230,"v":4},{"p":4,"m":248,"v":5},{"p":4,"m":265,"v":4.6},{"p":4,"m":282,"v":5},{"p":4,"m":300,"v":4.5},{"p":4,"m":318,"v":5},{"p":4,"m":336,"v":4.8},{"p":4,"m":352,"v":4.2},{"p":4,"m":370,"v":5},{"p":4,"m":388,"v":4.6},{"p":4,"m":405,"v":5},{"p":4,"m":422,"v":4.5},{"p":4,"m":440,"v":5},{"p":4,"m":456,"v":2},{"p":4,"m":472,"v":4.8},{"p":4,"m":490,"v":5},{"p":4,"m":508,"v":4.4},{"p":4,"m":525,"v":5},{"p":4,"m":543,"v":4.7},{"p":4,"m":560,"v":5},{"p":4,"m":578,"v":4.5},{"p":4,"m":596,"v":5},{"p":4,"m":615,"v":4.8},{"p":4,"m":632,"v":4.3},{"p":4,"m":650,"v":5},{"p":4,"m":668,"v":4.6},{"p":4,"m":686,"v":5},{"p":4,"m":705,"v":4.5},{"p":4,"m":722,"v":5},{"p":4,"m":740,"v":4.8},{"p":4,"m":758,"v":4.2},{"p":4,"m":776,"v":5},{"p":4,"m":794,"v":4.6},{"p":4,"m":812,"v":5},{"p":4,"m":830,"v":4.5},{"p":4,"m":848,"v":5},{"p":4,"m":866,"v":4.8},{"p":4,"m":884,"v":4.3},{"p":4,"m":902,"v":5},{"p":4,"m":920,"v":4.6},{"p":4,"m":938,"v":5},{"p":4,"m":956,"v":4.5},{"p":4,"m":975,"v":5},{"p":4,"m":1002,"v":3},{"p":4,"m":1020,"v":4.8},{"p":4,"m":1040,"v":5},{"p":4,"m":1058,"v":4.5},{"p":4,"m":1076,"v":5},{"p":4,"m":1093,"v":4.7},{"p":4,"m":1104,"v":3},{"p":4,"m":1122,"v":5},{"p":4,"m":1140,"v":4.5},{"p":4,"m":1158,"v":4},{"p":4,"m":1176,"v":5},{"p":4,"m":1194,"v":4.6},{"p":4,"m":1212,"v":5},{"p":4,"m":1230,"v":4.5},{"p":4,"m":1248,"v":5},{"p":4,"m":1266,"v":4.8},{"p":4,"m":1284,"v":4.4},{"p":4,"m":1302,"v":5},{"p":4,"m":1320,"v":4.7},{"p":4,"m":1341,"v":4},{"p":4,"m":1358,"v":5},{"p":4,"m":1376,"v":4.5},{"p":4,"m":1394,"v":5},{"p":4,"m":1412,"v":4.8},{"p":4,"m":1430,"v":4.5},
{"p":4,"m":14,"v":5.5},{"p":4,"m":30,"v":5.8},{"p":4,"m":50,"v":5.3},{"p":4,"m":80,"v":6},{"p":4,"m":97,"v":5.5},{"p":4,"m":115,"v":5.8},{"p":4,"m":135,"v":5.3},{"p":4,"m":152,"v":6},{"p":4,"m":170,"v":5.5},{"p":4,"m":187,"v":5.8},{"p":4,"m":203,"v":5.3},{"p":4,"m":222,"v":6},{"p":4,"m":240,"v":5.5},{"p":4,"m":257,"v":5.8},{"p":4,"m":274,"v":5.3},{"p":4,"m":292,"v":6},{"p":4,"m":310,"v":5.5},{"p":4,"m":327,"v":5.8},{"p":4,"m":344,"v":5.3},{"p":4,"m":362,"v":6},{"p":4,"m":380,"v":5.5},{"p":4,"m":397,"v":5.8},{"p":4,"m":414,"v":5.3},{"p":4,"m":432,"v":6},{"p":4,"m":448,"v":5.5},{"p":4,"m":465,"v":5.8},{"p":4,"m":482,"v":5.3},{"p":4,"m":500,"v":6},{"p":4,"m":517,"v":5.5},{"p":4,"m":535,"v":5.8},{"p":4,"m":552,"v":5.3},{"p":4,"m":570,"v":6},{"p":4,"m":587,"v":5.5},{"p":4,"m":605,"v":5.8},{"p":4,"m":624,"v":5.3},{"p":4,"m":641,"v":6},{"p":4,"m":659,"v":5.5},{"p":4,"m":677,"v":5.8},{"p":4,"m":695,"v":5.3},{"p":4,"m":713,"v":6},{"p":4,"m":731,"v":5.5},{"p":4,"m":749,"v":5.8},{"p":4,"m":767,"v":5.3},{"p":4,"m":785,"v":6},{"p":4,"m":803,"v":5.5},{"p":4,"m":821,"v":5.8},{"p":4,"m":839,"v":5.3},{"p":4,"m":857,"v":6},{"p":4,"m":875,"v":5.5},{"p":4,"m":893,"v":5.8},{"p":4,"m":911,"v":5.3},{"p":4,"m":929,"v":6},{"p":4,"m":947,"v":5.5},{"p":4,"m":966,"v":5.8},{"p":4,"m":985,"v":5.3},{"p":4,"m":1012,"v":6},{"p":4,"m":1030,"v":5.5},{"p":4,"m":1049,"v":5.8},{"p":4,"m":1067,"v":5.3},{"p":4,"m":1085,"v":6},{"p":4,"m":1113,"v":5.5},{"p":4,"m":1131,"v":5.8},{"p":4,"m":1149,"v":5.3},{"p":4,"m":1167,"v":6},{"p":4,"m":1185,"v":5.5},{"p":4,"m":1203,"v":5.8},{"p":4,"m":1221,"v":5.3},{"p":4,"m":1239,"v":6},{"p":4,"m":1257,"v":5.5},{"p":4,"m":1275,"v":5.8},{"p":4,"m":1293,"v":5.3},{"p":4,"m":1311,"v":6},{"p":4,"m":1329,"v":5.5},{"p":4,"m":1350,"v":5.8},{"p":4,"m":1367,"v":5.3},{"p":4,"m":1385,"v":6},{"p":4,"m":1403,"v":5.5},{"p":4,"m":1421,"v":5.8},{"p":4,"m":1438,"v":5.3},
{"p":4,"m":12,"v":19},{"p":4,"m":55,"v":20},{"p":4,"m":100,"v":18.5},{"p":4,"m":150,"v":21},{"p":4,"m":205,"v":19},{"p":4,"m":260,"v":18},{"p":4,"m":315,"v":20},{"p":4,"m":370,"v":18.5},{"p":4,"m":425,"v":19.5},{"p":4,"m":480,"v":18},{"p":4,"m":540,"v":20},{"p":4,"m":595,"v":19},{"p":4,"m":650,"v":18.5},{"p":4,"m":710,"v":20.5},{"p":4,"m":765,"v":18},{"p":4,"m":820,"v":19},{"p":4,"m":880,"v":21},{"p":4,"m":935,"v":18.5},{"p":4,"m":990,"v":19.5},{"p":4,"m":1045,"v":20},{"p":4,"m":1100,"v":18.5},{"p":4,"m":1150,"v":19},{"p":4,"m":1200,"v":20},{"p":4,"m":1255,"v":18.5},{"p":4,"m":1310,"v":19.5},{"p":4,"m":1365,"v":18},{"p":4,"m":1420,"v":19},
{"p":4,"m":3,"v":16.5},{"p":4,"m":25,"v":17.2},{"p":4,"m":45,"v":16},{"p":4,"m":68,"v":17.6},{"p":4,"m":82,"v":16.8},{"p":4,"m":118,"v":16.5},{"p":4,"m":135,"v":17.2},{"p":4,"m":168,"v":16},{"p":4,"m":185,"v":17.6},{"p":4,"m":222,"v":16.8},{"p":4,"m":240,"v":16.5},{"p":4,"m":272,"v":17.2},{"p":4,"m":295,"v":16},{"p":4,"m":332,"v":17.6},{"p":4,"m":350,"v":16.8},{"p":4,"m":388,"v":16.5},{"p":4,"m":405,"v":17.2},{"p":4,"m":440,"v":16},{"p":4,"m":462,"v":17.6},{"p":4,"m":498,"v":16.8},{"p":4,"m":515,"v":16.5},{"p":4,"m":552,"v":17.2},{"p":4,"m":570,"v":16},{"p":4,"m":608,"v":17.6},{"p":4,"m":625,"v":16.8},{"p":4,"m":665,"v":16.5},{"p":4,"m":688,"v":17.2},{"p":4,"m":725,"v":16},{"p":4,"m":742,"v":17.6},{"p":4,"m":782,"v":16.8},{"p":4,"m":800,"v":16.5},{"p":4,"m":838,"v":17.2},{"p":4,"m":858,"v":16},{"p":4,"m":895,"v":17.6},{"p":4,"m":912,"v":16.8},{"p":4,"m":948,"v":16.5},{"p":4,"m":968,"v":17.2},{"p":4,"m":1005,"v":16},{"p":4,"m":1025,"v":17.6},{"p":4,"m":1062,"v":16.8},{"p":4,"m":1080,"v":16.5},{"p":4,"m":1118,"v":17.2},{"p":4,"m":1135,"v":16},{"p":4,"m":1172,"v":17.6},{"p":4,"m":1188,"v":16.8},{"p":4,"m":1228,"v":16.5},{"p":4,"m":1242,"v":17.2},{"p":4,"m":1278,"v":16},{"p":4,"m":1295,"v":17.6},{"p":4,"m":1332,"v":16.8},{"p":4,"m":1350,"v":16.5},{"p":4,"m":1385,"v":17.2},{"p":4,"m":1402,"v":16},{"p":4,"m":1438,"v":17.6}
]
},
"vconcat": [
{"width": 774, "height": 101,
 "resolve": {"axis": {"x": "independent", "y": "independent"}},
 "layer": [
  {"data": {"name": "band"}, "mark": {"type": "area", "color": "black", "clip": true},
   "encoding": {
    "x": {"field": "m", "type": "quantitative", "scale": {"domain": [0, 1440], "nice": false, "zero": false}, "axis": {"orient": "bottom", "values": [0,120,240,360,480,600,720,840,960,1080,1200,1320,1440], "ticks": false, "labels": false, "title": null}},
    "y": {"field": "a", "type": "quantitative", "scale": {"type": "log", "domain": [1, 30], "nice": false}, "axis": {"orient": "left", "values": [1, 10], "ticks": false, "labels": true, "labelFlush": true, "labelPadding": 4, "title": null}},
    "y2": {"field": "A"}}},
  {"data": {"name": "spk"}, "transform": [{"filter": "datum.p == 1"}], "mark": {"type": "rule", "color": "black", "strokeWidth": 1, "clip": true},
   "encoding": {
    "x": {"field": "m", "type": "quantitative", "scale": {"domain": [0, 1440], "nice": false, "zero": false}, "axis": {"orient": "bottom", "values": [0,120,240,360,480,600,720,840,960,1080,1200,1320,1440], "tickSize": -8, "title": null}},
    "y": {"field": "v", "type": "quantitative", "scale": {"type": "log", "domain": [1, 30], "nice": false}, "axis": {"orient": "left", "values": [1,2,3,4,5,6,7,8,9,10,20,30], "tickSize": -5, "title": null}},
    "y2": {"datum": 8}}},
  {"data": {"name": "band"}, "mark": {"type": "area", "opacity": 0},
   "encoding": {
    "x": {"field": "m", "type": "quantitative", "scale": {"domain": [0, 1440], "nice": false, "zero": false}, "axis": {"orient": "top", "values": [0,120,240,360,480,600,720,840,960,1080,1200,1320,1440], "tickSize": -8, "title": null}},
    "y": {"field": "a", "type": "quantitative", "scale": {"type": "log", "domain": [1, 30], "nice": false}, "axis": {"orient": "right", "values": [1,2,3,4,5,6,7,8,9,10,20,30], "tickSize": -5, "title": "2 - 3 keV", "titleX": 17, "titleY": 50.5, "titleAngle": 270, "titleAlign": "center", "titleBaseline": "middle", "titleFontSize": 21}},
    "y2": {"field": "A"}}},
  {"data": {"name": "band"}, "mark": {"type": "area", "opacity": 0},
   "encoding": {
    "x": {"field": "m", "type": "quantitative", "scale": {"domain": [0, 1440], "nice": false, "zero": false}, "axis": {"orient": "bottom", "values": [0,30,60,90,120,150,180,210,240,270,300,330,360,390,420,450,480,510,540,570,600,630,660,690,720,750,780,810,840,870,900,930,960,990,1020,1050,1080,1110,1140,1170,1200,1230,1260,1290,1320,1350,1380,1410,1440], "tickSize": -4, "title": null}},
    "y": {"field": "a", "type": "quantitative", "scale": {"type": "log", "domain": [1, 30], "nice": false}, "axis": null},
    "y2": {"field": "A"}}},
  {"data": {"name": "band"}, "mark": {"type": "area", "opacity": 0},
   "encoding": {
    "x": {"field": "m", "type": "quantitative", "scale": {"domain": [0, 1440], "nice": false, "zero": false}, "axis": {"orient": "top", "values": [0,30,60,90,120,150,180,210,240,270,300,330,360,390,420,450,480,510,540,570,600,630,660,690,720,750,780,810,840,870,900,930,960,990,1020,1050,1080,1110,1140,1170,1200,1230,1260,1290,1320,1350,1380,1410,1440], "tickSize": -4, "title": null}},
    "y": {"field": "a", "type": "quantitative", "scale": {"type": "log", "domain": [1, 30], "nice": false}, "axis": null},
    "y2": {"field": "A"}}}
 ]},
{"width": 774, "height": 101,
 "resolve": {"axis": {"x": "independent", "y": "independent"}},
 "layer": [
  {"data": {"name": "band"}, "mark": {"type": "area", "color": "black", "clip": true},
   "encoding": {
    "x": {"field": "m", "type": "quantitative", "scale": {"domain": [0, 1440], "nice": false, "zero": false}, "axis": {"orient": "bottom", "values": [0,120,240,360,480,600,720,840,960,1080,1200,1320,1440], "ticks": false, "labels": false, "title": null}},
    "y": {"field": "b", "type": "quantitative", "scale": {"type": "log", "domain": [3, 70], "nice": false}, "axis": {"orient": "left", "values": [10], "ticks": false, "labels": true, "labelFlush": true, "labelPadding": 4, "title": "count rate", "titleFontSize": 25, "titleX": -64, "titleY": 80, "titleAngle": 270, "titleAlign": "center", "titleBaseline": "middle"}},
    "y2": {"field": "B"}}},
  {"data": {"name": "spk"}, "transform": [{"filter": "datum.p == 2"}], "mark": {"type": "rule", "color": "black", "strokeWidth": 1, "clip": true},
   "encoding": {
    "x": {"field": "m", "type": "quantitative", "scale": {"domain": [0, 1440], "nice": false, "zero": false}, "axis": {"orient": "bottom", "values": [0,120,240,360,480,600,720,840,960,1080,1200,1320,1440], "tickSize": -8, "title": null}},
    "y": {"field": "v", "type": "quantitative", "scale": {"type": "log", "domain": [3, 70], "nice": false}, "axis": {"orient": "left", "values": [3,4,5,6,7,8,9,10,20,30,40,50,60,70], "tickSize": -5, "title": null}},
    "y2": {"datum": 15}}},
  {"data": {"name": "band"}, "mark": {"type": "area", "opacity": 0},
   "encoding": {
    "x": {"field": "m", "type": "quantitative", "scale": {"domain": [0, 1440], "nice": false, "zero": false}, "axis": {"orient": "top", "values": [0,120,240,360,480,600,720,840,960,1080,1200,1320,1440], "tickSize": -8, "title": null}},
    "y": {"field": "b", "type": "quantitative", "scale": {"type": "log", "domain": [3, 70], "nice": false}, "axis": {"orient": "right", "values": [3,4,5,6,7,8,9,10,20,30,40,50,60,70], "tickSize": -5, "title": "3 - 5 keV", "titleX": 17, "titleY": 50.5, "titleAngle": 270, "titleAlign": "center", "titleBaseline": "middle", "titleFontSize": 21}},
    "y2": {"field": "B"}}},
  {"data": {"name": "band"}, "mark": {"type": "area", "opacity": 0},
   "encoding": {
    "x": {"field": "m", "type": "quantitative", "scale": {"domain": [0, 1440], "nice": false, "zero": false}, "axis": {"orient": "bottom", "values": [0,30,60,90,120,150,180,210,240,270,300,330,360,390,420,450,480,510,540,570,600,630,660,690,720,750,780,810,840,870,900,930,960,990,1020,1050,1080,1110,1140,1170,1200,1230,1260,1290,1320,1350,1380,1410,1440], "tickSize": -4, "title": null}},
    "y": {"field": "b", "type": "quantitative", "scale": {"type": "log", "domain": [3, 70], "nice": false}, "axis": null},
    "y2": {"field": "B"}}},
  {"data": {"name": "band"}, "mark": {"type": "area", "opacity": 0},
   "encoding": {
    "x": {"field": "m", "type": "quantitative", "scale": {"domain": [0, 1440], "nice": false, "zero": false}, "axis": {"orient": "top", "values": [0,30,60,90,120,150,180,210,240,270,300,330,360,390,420,450,480,510,540,570,600,630,660,690,720,750,780,810,840,870,900,930,960,990,1020,1050,1080,1110,1140,1170,1200,1230,1260,1290,1320,1350,1380,1410,1440], "tickSize": -4, "title": null}},
    "y": {"field": "b", "type": "quantitative", "scale": {"type": "log", "domain": [3, 70], "nice": false}, "axis": null},
    "y2": {"field": "B"}}}
 ]},
{"width": 774, "height": 101,
 "resolve": {"axis": {"x": "independent", "y": "independent"}},
 "layer": [
  {"data": {"name": "band"}, "mark": {"type": "area", "color": "black", "clip": true},
   "encoding": {
    "x": {"field": "m", "type": "quantitative", "scale": {"domain": [0, 1440], "nice": false, "zero": false}, "axis": {"orient": "bottom", "values": [0,120,240,360,480,600,720,840,960,1080,1200,1320,1440], "ticks": false, "labels": false, "title": null}},
    "y": {"field": "c", "type": "quantitative", "scale": {"type": "log", "domain": [1, 40], "nice": false}, "axis": {"orient": "left", "values": [1, 10], "ticks": false, "labels": true, "labelFlush": true, "labelPadding": 4, "title": null}},
    "y2": {"field": "C"}}},
  {"data": {"name": "spk"}, "transform": [{"filter": "datum.p == 3"}], "mark": {"type": "rule", "color": "black", "strokeWidth": 1.6, "clip": true},
   "encoding": {
    "x": {"field": "m", "type": "quantitative", "scale": {"domain": [0, 1440], "nice": false, "zero": false}, "axis": {"orient": "bottom", "values": [0,120,240,360,480,600,720,840,960,1080,1200,1320,1440], "tickSize": -8, "title": null}},
    "y": {"field": "v", "type": "quantitative", "scale": {"type": "log", "domain": [1, 40], "nice": false}, "axis": {"orient": "left", "values": [1,2,3,4,5,6,7,8,9,10,20,30,40], "tickSize": -5, "title": null}},
    "y2": {"datum": 4}}},
  {"data": {"name": "band"}, "mark": {"type": "area", "opacity": 0},
   "encoding": {
    "x": {"field": "m", "type": "quantitative", "scale": {"domain": [0, 1440], "nice": false, "zero": false}, "axis": {"orient": "top", "values": [0,120,240,360,480,600,720,840,960,1080,1200,1320,1440], "tickSize": -8, "title": null}},
    "y": {"field": "c", "type": "quantitative", "scale": {"type": "log", "domain": [1, 40], "nice": false}, "axis": {"orient": "right", "values": [1,2,3,4,5,6,7,8,9,10,20,30,40], "tickSize": -5, "title": "5 - 8 keV", "titleX": 17, "titleY": 50.5, "titleAngle": 270, "titleAlign": "center", "titleBaseline": "middle", "titleFontSize": 21}},
    "y2": {"field": "C"}}},
  {"data": {"name": "band"}, "mark": {"type": "area", "opacity": 0},
   "encoding": {
    "x": {"field": "m", "type": "quantitative", "scale": {"domain": [0, 1440], "nice": false, "zero": false}, "axis": {"orient": "bottom", "values": [0,30,60,90,120,150,180,210,240,270,300,330,360,390,420,450,480,510,540,570,600,630,660,690,720,750,780,810,840,870,900,930,960,990,1020,1050,1080,1110,1140,1170,1200,1230,1260,1290,1320,1350,1380,1410,1440], "tickSize": -4, "title": null}},
    "y": {"field": "c", "type": "quantitative", "scale": {"type": "log", "domain": [1, 40], "nice": false}, "axis": null},
    "y2": {"field": "C"}}},
  {"data": {"name": "band"}, "mark": {"type": "area", "opacity": 0},
   "encoding": {
    "x": {"field": "m", "type": "quantitative", "scale": {"domain": [0, 1440], "nice": false, "zero": false}, "axis": {"orient": "top", "values": [0,30,60,90,120,150,180,210,240,270,300,330,360,390,420,450,480,510,540,570,600,630,660,690,720,750,780,810,840,870,900,930,960,990,1020,1050,1080,1110,1140,1170,1200,1230,1260,1290,1320,1350,1380,1410,1440], "tickSize": -4, "title": null}},
    "y": {"field": "c", "type": "quantitative", "scale": {"type": "log", "domain": [1, 40], "nice": false}, "axis": null},
    "y2": {"field": "C"}}}
 ]},
{"width": 774, "height": 101,
 "resolve": {"axis": {"x": "independent", "y": "independent"}},
 "layer": [
  {"data": {"name": "band"}, "mark": {"type": "area", "color": "black", "clip": true},
   "encoding": {
    "x": {"field": "m", "type": "quantitative", "scale": {"domain": [0, 1440], "nice": false, "zero": false}, "axis": {"orient": "bottom", "values": [0,120,240,360,480,600,720,840,960,1080,1200,1320,1440], "ticks": false, "labels": true, "labelFlush": false, "labelFontSize": 16, "labelPadding": 6, "labelExpr": "(datum.value < 600 ? '0' : '') + floor(datum.value / 60) + ':00'", "title": "time UT", "titleFontSize": 16, "titleFontWeight": "bold", "titlePadding": 4}},
    "y": {"field": "d", "type": "quantitative", "scale": {"type": "log", "domain": [1, 30], "nice": false}, "axis": {"orient": "left", "values": [1, 10], "ticks": false, "labels": true, "labelFlush": true, "labelPadding": 4, "title": null}},
    "y2": {"field": "D"}}},
  {"data": {"name": "spk"}, "transform": [{"filter": "datum.p == 4"}], "mark": {"type": "rule", "color": "black", "strokeWidth": 1, "clip": true},
   "encoding": {
    "x": {"field": "m", "type": "quantitative", "scale": {"domain": [0, 1440], "nice": false, "zero": false}, "axis": {"orient": "bottom", "values": [0,120,240,360,480,600,720,840,960,1080,1200,1320,1440], "tickSize": -8, "title": null}},
    "y": {"field": "v", "type": "quantitative", "scale": {"type": "log", "domain": [1, 30], "nice": false}, "axis": {"orient": "left", "values": [1,2,3,4,5,6,7,8,9,10,20,30], "tickSize": -5, "title": null}},
    "y2": {"datum": 9}}},
  {"data": {"name": "band"}, "mark": {"type": "area", "opacity": 0},
   "encoding": {
    "x": {"field": "m", "type": "quantitative", "scale": {"domain": [0, 1440], "nice": false, "zero": false}, "axis": {"orient": "top", "values": [0,120,240,360,480,600,720,840,960,1080,1200,1320,1440], "tickSize": -8, "title": null}},
    "y": {"field": "d", "type": "quantitative", "scale": {"type": "log", "domain": [1, 30], "nice": false}, "axis": {"orient": "right", "values": [1,2,3,4,5,6,7,8,9,10,20,30], "tickSize": -5, "title": "10 - 15 keV", "titleX": 17, "titleY": 50.5, "titleAngle": 270, "titleAlign": "center", "titleBaseline": "middle", "titleFontSize": 21}},
    "y2": {"field": "D"}}},
  {"data": {"name": "band"}, "mark": {"type": "area", "opacity": 0},
   "encoding": {
    "x": {"field": "m", "type": "quantitative", "scale": {"domain": [0, 1440], "nice": false, "zero": false}, "axis": {"orient": "bottom", "values": [0,30,60,90,120,150,180,210,240,270,300,330,360,390,420,450,480,510,540,570,600,630,660,690,720,750,780,810,840,870,900,930,960,990,1020,1050,1080,1110,1140,1170,1200,1230,1260,1290,1320,1350,1380,1410,1440], "tickSize": -4, "title": null}},
    "y": {"field": "d", "type": "quantitative", "scale": {"type": "log", "domain": [1, 30], "nice": false}, "axis": null},
    "y2": {"field": "D"}}},
  {"data": {"name": "band"}, "mark": {"type": "area", "opacity": 0},
   "encoding": {
    "x": {"field": "m", "type": "quantitative", "scale": {"domain": [0, 1440], "nice": false, "zero": false}, "axis": {"orient": "top", "values": [0,30,60,90,120,150,180,210,240,270,300,330,360,390,420,450,480,510,540,570,600,630,660,690,720,750,780,810,840,870,900,930,960,990,1020,1050,1080,1110,1140,1170,1200,1230,1260,1290,1320,1350,1380,1410,1440], "tickSize": -4, "title": null}},
    "y": {"field": "d", "type": "quantitative", "scale": {"type": "log", "domain": [1, 30], "nice": false}, "axis": null},
    "y2": {"field": "D"}}}
 ]}
]
}
